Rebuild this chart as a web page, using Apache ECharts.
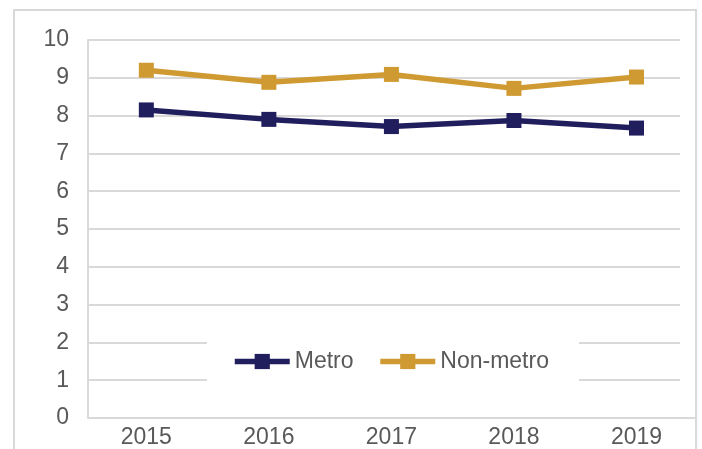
<!DOCTYPE html>
<html>
<head>
<meta charset="utf-8">
<script src="https://cdn.jsdelivr.net/npm/echarts@6/dist/echarts.min.js"></script>
<style>
  html,body{margin:0;padding:0;background:#fff;}
  #main{width:702px;height:449px;}
</style>
</head>
<body>
<div id="main"></div>
<script>
var years=[2015,2016,2017,2018,2019];
var metro=[8.15,7.90,7.71,7.87,7.67];
var nonMetro=[9.20,8.88,9.09,8.72,9.02];
var yTicks=[0,1,2,3,4,5,6,7,8,9,10];

function pairs(vals){
  var out=[];
  for(var i=0;i<years.length;i++){
    out.push([years[i],vals[i]]);
  }
  return out;
}

var myChart=echarts.init(document.getElementById('main'));
var txt='#595959';
var grey='#d9d9d9';
var font='"Liberation Sans", Arial, sans-serif';

var option={
  animation:false,
  backgroundColor:'#fff',
  textStyle:{fontFamily:font},
  grid:{left:88,right:22,top:40,bottom:31},
  graphic:[
    {type:'rect',shape:{x:14,y:10,width:682,height:460},style:{fill:'none',stroke:grey,lineWidth:2},z:-1},
    {type:'line',shape:{x1:680,y1:418,x2:695,y2:418},style:{stroke:grey,lineWidth:2}}
  ],
  legend:{
    left:207,
    top:338,
    padding:[12,30,12,25],
    backgroundColor:'#fff',
    itemWidth:55,
    itemHeight:19,
    itemGap:24,
    lineStyle:{width:5.5},
    textStyle:{fontSize:23,color:txt,fontFamily:font},
    data:['Metro','Non-metro']
  },
  xAxis:{
    type:'value',
    min:2014.524,
    max:2019.355,
    axisLine:{show:false},
    axisTick:{show:false},
    splitLine:{show:false},
    axisLabel:{
      customValues:years,
      color:txt,
      fontSize:23,
      margin:8,
      formatter:function(v){return String(v);}
    }
  },
  yAxis:{
    type:'value',
    min:0,
    max:10,
    interval:1,
    axisLine:{show:true,lineStyle:{color:grey,width:2}},
    axisTick:{show:false},
    axisLabel:{color:txt,fontSize:23,margin:19,customValues:yTicks},
    splitLine:{lineStyle:{color:grey,width:2}}
  },
  series:[
    {
      name:'Metro',
      type:'line',
      data:pairs(metro),
      symbol:'rect',
      symbolSize:15,
      color:'#211e5e',
      lineStyle:{width:5.5,color:'#211e5e'},
      itemStyle:{color:'#211e5e'}
    },
    {
      name:'Non-metro',
      type:'line',
      data:pairs(nonMetro),
      symbol:'rect',
      symbolSize:15,
      color:'#cf9a32',
      lineStyle:{width:5.5,color:'#cf9a32'},
      itemStyle:{color:'#cf9a32'}
    }
  ]
};
myChart.setOption(option);
</script>
</body>
</html>
